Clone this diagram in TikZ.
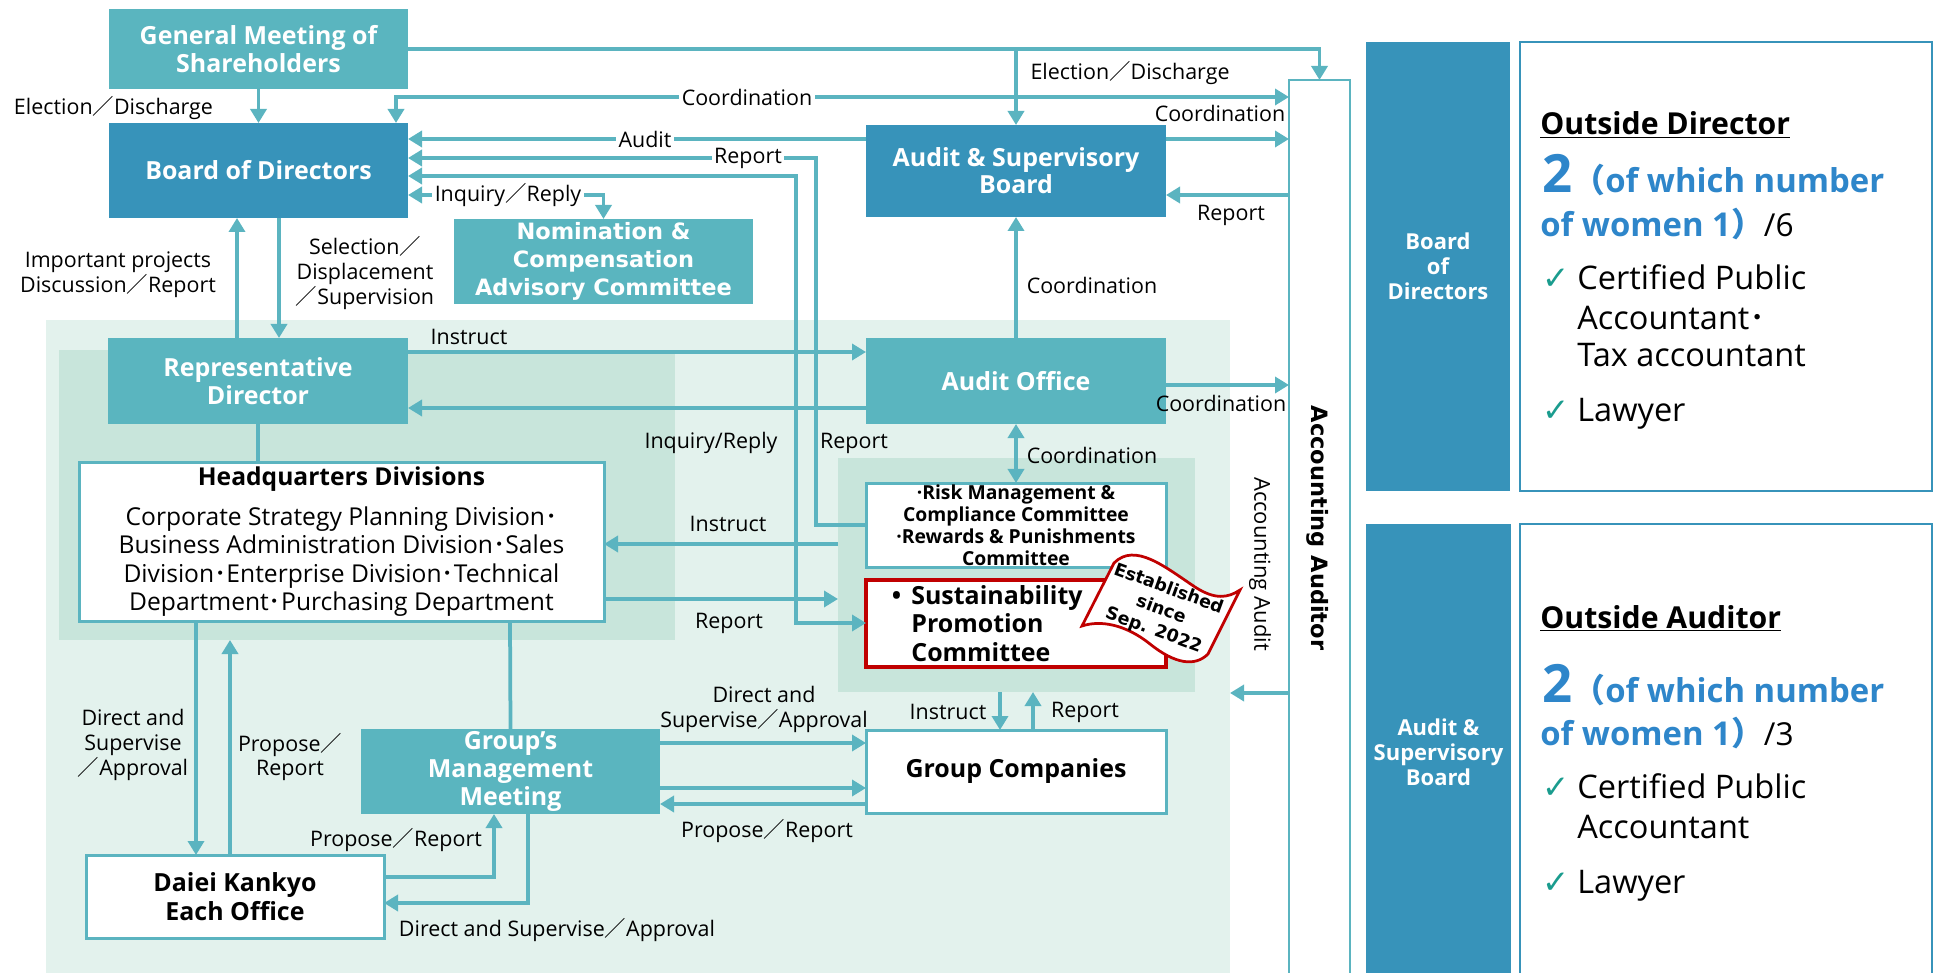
\documentclass[tikz,border=0pt]{standalone}
\usepackage{fontspec}
\setmainfont{Open Sans}
\newfontfamily\cjk{Noto Sans CJK JP}
\newfontfamily\dvs{DejaVu Sans}
\usetikzlibrary{arrows.meta}
\definecolor{linecol}{HTML}{5BB4C0}
\definecolor{tealbox}{HTML}{5AB5BF}
\definecolor{boardblue}{HTML}{3793BA}
\definecolor{regionA}{HTML}{E3F2ED}
\definecolor{regionB}{HTML}{C8E5DB}
\definecolor{susred}{HTML}{C00000}
\definecolor{numblue}{HTML}{2E86CA}
\definecolor{chkgreen}{HTML}{1A9C8E}
\newcommand{\zsl}{{\cjk ／}}
\newcommand{\zdt}{{\cjk ･}}
\newcommand{\zlp}{{\cjk （}}
\newcommand{\zrp}{{\cjk ）}}
\newcommand{\chk}{{\dvs\color{chkgreen}✓}}

\begin{document}
\begin{tikzpicture}[
        x=0.2mm, y=0.2mm,
        >={Triangle[length=2.8mm,width=3.2mm]},
        sz/.style 2 args={minimum width=#1*0.2mm, minimum height=#2*0.2mm},
        region/.style={draw=none, inner sep=0, outer sep=0},
        tbox/.style={fill=tealbox, draw=none, text=white, align=center,
                     inner sep=0, outer sep=0,
                     font=\bfseries\fontsize{14.2}{16}\selectfont},
        bbox/.style={tbox, fill=boardblue},
        wbox/.style={fill=white, draw=linecol, line width=0.6mm, text=black,
                     align=center, inner sep=0, outer sep=0,
                     font=\bfseries\fontsize{14.2}{16.4}\selectfont},
        lbl/.style={inner sep=0, align=center, text=black,
                    font=\fontsize{12.2}{14.2}\selectfont},
        lblw/.style={lbl, fill=white, inner xsep=1.5pt, inner ysep=1pt},
        conn/.style={draw=linecol, line width=0.75mm, ->},
        plain/.style={draw=linecol, line width=0.75mm},
        ptxt/.style={anchor=base west, inner sep=0, text=black,
                     font=\fontsize{18.5}{22}\selectfont},
        ptitle/.style={ptxt, font=\bfseries\fontsize{17.2}{20}\selectfont},
        pnum/.style={ptxt, text=numblue, font=\bfseries\fontsize{18.7}{22}\selectfont},
        side/.style={bbox, font=\bfseries\fontsize{12.5}{14.2}\selectfont},
        panel/.style={draw=boardblue, line width=0.5mm, fill=white,
                      inner sep=0, outer sep=0},
      ]
      \useasboundingbox (0,0) rectangle (1935,972);
      \clip (0,0) rectangle (1935,972);

      % background areas
      \node[region, fill=regionA, sz={1184}{662}] (grp) at (638,321) {};
      \node[region, fill=regionB, sz={616}{290}] (hqarea) at (367,477) {};
      \node[region, fill=regionB, sz={357}{234}] (cmt) at (1016.5,397) {};

      % boxes
      \node[tbox, sz={299}{80}] (gms) at (258.5,923) {General Meeting of\\Shareholders};
      \node[bbox, sz={299}{95}] (bod) at (258.5,801.5) {Board of Directors};
      \node[tbox, sz={299}{85}, font=\dvs\bfseries\fontsize{12.8}{15.9}\selectfont]
        (nom) at (603.5,710.5) {Nomination \&\\Compensation\\Advisory Committee};
      \node[bbox, sz={300}{92}, font=\bfseries\fontsize{14.2}{12.5}\selectfont]
        (asb) at (1016,801) {Audit \& Supervisory\\Board};
      \node[tbox, sz={300}{86}] (rd) at (258,591) {Representative\\Director};
      \node[wbox, sz={525}{159}, font=\fontsize{14}{16.2}\selectfont] (hq) at (341.5,430.5)
        {{\bfseries Headquarters Divisions}\\[6.5pt]
         Corporate Strategy Planning Division\zdt\\
         Business Administration Division\zdt Sales\\
         Division\zdt Enterprise Division\zdt Technical\\
         Department\zdt Purchasing Department};
      \node[tbox, sz={300}{86}] (ao) at (1016,591) {Audit Office};
      \node[wbox, sz={300}{84}, font=\bfseries\fontsize{11}{12.5}\selectfont]
        (risk) at (1016,447) {·Risk Management \&\\Compliance Committee\\
                              ·Rewards \& Punishments\\Committee};
      \node[wbox, draw=susred, line width=0.85mm, sz={300}{87}] (sus) at (1016,348.5) {};
      \node[anchor=west, inner sep=0, align=left, font=\bfseries\fontsize{14.2}{16.4}\selectfont]
        (sustxt) at (911,348.5) {\llap{\textbullet\hspace{2mm}}Sustainability\\Promotion\\Committee};
      \node[wbox, sz={300}{83}] (gc) at (1016,200.5) {Group Companies};
      \node[tbox, sz={299}{85}] (gmm) at (510.5,200.5) {Group’s\\Management\\Meeting};
      \node[wbox, sz={298}{83}] (daiei) at (235,75.5) {Daiei Kankyo\\Each Office};
      \node[wbox, line width=0.45mm, sz={61}{900}] (aa) at (1319.5,442) {};
      \node[lbl, rotate=-90, font=\dvs\bfseries\fontsize{12.8}{15}\selectfont]
        (aalbl) at (1318,444) {Accounting Auditor};

      % banner
      \draw[draw=susred, line width=0.55mm, fill=white]
        (1114,409) .. controls (1135,430) and (1165,405) .. (1195,385)
        .. controls (1215,372) and (1228,374) .. (1240,382) -- (1208,318)
        .. controls (1195,305) and (1175,308) .. (1150,328)
        .. controls (1125,348) and (1100,352) .. (1082,346) -- cycle;
      \node[lbl, rotate=-20, font=\dvs\bfseries\fontsize{10}{12.5}\selectfont]
        (since) at (1161,362) {Established\\since\\Sep. 2022};

      % connectors, upper part
      \draw[conn] (gms) -- (bod);
      \draw[conn] (gms.east) -| (aa.north);
      \draw[conn] (gms.east -| asb.north) -- (asb.north);
      \draw[conn, <->] (bod.north -| 396,0) |- (aa.west |- 0,875);
      \draw[conn] (asb.east |- 0,833) -- (aa.west |- 0,833);
      \draw[conn] (aa.west |- 0,777) -- (asb.east |- 0,777);
      \draw[conn] (asb.west |- 0,833) -- (bod.east |- 0,833);
      \draw[conn] (risk.west) -| (816,814) -- (bod.east |- 0,814);
      \draw[conn, <->] (bod.east |- 0,796) -| (796,349) -- (sus.west |- 0,349);
      \draw[conn, <->] (bod.east |- 0,777) -| (nom.north);
      \draw[conn] (237,0 |- rd.north) -- (237,0 |- bod.south);
      \draw[conn] (279,0 |- bod.south) -- (279,0 |- rd.north);
      \draw[conn] (rd.east |- 0,620) -- (ao.west |- 0,620);
      \draw[conn] (ao.west |- 0,564) -- (rd.east |- 0,564);
      \draw[conn] (ao.east |- 0,587) -- (aa.west |- 0,587);
      \draw[conn] (ao) -- (asb);
      \draw[conn, <->] (ao) -- (risk);

      % connectors, lower part
      \draw[plain] (rd.south) -- (rd.south |- hq.north);
      \draw[conn] (cmt.west |- 0,428) -- (hq.east |- 0,428);
      \draw[conn] (hq.east |- 0,373) -- (cmt.west |- 0,373);
      \draw[conn] (196,0 |- hq.south) -- (196,0 |- daiei.north);
      \draw[conn] (230,0 |- daiei.north) -- (230,0 |- hqarea.south);
      \draw[plain] (510,0 |- hq.south) -- (gmm.north);
      \draw[conn] (gmm.east |- 0,229) -- (gc.west |- 0,229);
      \draw[conn] (gmm.east |- 0,184) -- (gc.west |- 0,184);
      \draw[conn] (gc.west |- 0,168) -- (gmm.east |- 0,168);
      \draw[conn] (1000,0 |- cmt.south) -- (1000,0 |- gc.north);
      \draw[conn] (1033,0 |- gc.north) -- (1033,0 |- cmt.south);
      \draw[conn] (daiei.east |- 0,95) -| (gmm.south -| 494,0);
      \draw[conn] (gmm.south -| 528,0) |- (daiei.east |- 0,69);
      \draw[conn] (aa.west |- 0,279) -- (grp.east |- 0,279);

      % labels
      \node[lbl] (l1) at (113.5,864) {Election\zsl Discharge};
      \node[lbl] (l2) at (1130,899) {Election\zsl Discharge};
      \node[lblw] (l3) at (747,875) {Coordination};
      \node[lbl] (l4) at (1220,859) {Coordination};
      \node[lbl] (l5) at (1231,757) {Report};
      \node[lblw] (l6) at (645,833) {Audit};
      \node[lblw] (l7) at (748,814) {Report};
      \node[lblw] (l8) at (508,777) {Inquiry\zsl Reply};
      \node[lbl] (l9) at (118,697.5) {Important projects\\Discussion\zsl Report};
      \node[lbl] (l10) at (365,699) {Selection\zsl\\Displacement\\\zsl Supervision};
      \node[lbl] (l11) at (469,635) {Instruct};
      \node[lbl] (l12) at (711,529) {Inquiry/Reply};
      \node[lbl] (l13) at (854,529) {Report};
      \node[lbl] (l14) at (1092,687) {Coordination};
      \node[lbl] (l15) at (1221,569) {Coordination};
      \node[lbl] (l16) at (1092,517) {Coordination};
      \node[lbl] (l17) at (728,448) {Instruct};
      \node[lbl] (l18) at (729,349) {Report};
      \node[lbl] (l19) at (133,227) {Direct and\\Supervise\\\zsl Approval};
      \node[lbl] (l20) at (290,215) {Propose\zsl\\Report};
      \node[lbl] (l21) at (764,263) {Direct and\\Supervise\zsl Approval};
      \node[lbl] (l22) at (767,141) {Propose\zsl Report};
      \node[lbl] (l23) at (948,260) {Instruct};
      \node[lbl] (l24) at (1085,260) {Report};
      \node[lbl] (l25) at (396,132) {Propose\zsl Report};
      \node[lbl] (l26) at (557,42) {Direct and Supervise\zsl Approval};
      \node[lbl, rotate=-90, font=\fontsize{12.5}{14}\selectfont] (l27) at (1260,408) {Accounting Audit};

      % right panel
      \node[side, sz={144}{449}] (sbod) at (1438,705.5) {Board\\of\\Directors};
      \node[panel, sz={412}{449}] (obod) at (1726,705.5) {};
      \node[side, sz={145}{456}] (sasb) at (1438.5,220) {Audit \&\\Supervisory\\Board};
      \node[panel, sz={412}{456}] (oasb) at (1726,220) {};

      \node[ptitle] (odt) at (1540,837) {\underline{Outside Director}};
      \node[pnum] (odn1) at (1542,779) {{\fontsize{30}{30}\selectfont 2}\zlp of which number};
      \node[pnum] (odn2) at (1540,735) {of women 1\zrp{\color{black}\mdseries\fontsize{18}{22}\selectfont /6}};
      \node[ptxt] (odc1) at (1542,682) {\chk};
      \node[ptxt] (odq1) at (1577,682) {Certified Public};
      \node[ptxt] (odq2) at (1577,642) {Accountant\zdt};
      \node[ptxt] (odq3) at (1577,605) {Tax accountant};
      \node[ptxt] (odc2) at (1542,550) {\chk};
      \node[ptxt] (odq4) at (1577,550) {Lawyer};

      \node[ptitle] (oat) at (1540,344) {\underline{Outside Auditor}};
      \node[pnum] (oan1) at (1542,270) {{\fontsize{30}{30}\selectfont 2}\zlp of which number};
      \node[pnum] (oan2) at (1540,227) {of women 1\zrp{\color{black}\mdseries\fontsize{18}{22}\selectfont /3}};
      \node[ptxt] (oac1) at (1542,174) {\chk};
      \node[ptxt] (oaq1) at (1577,174) {Certified Public};
      \node[ptxt] (oaq2) at (1577,134) {Accountant};
      \node[ptxt] (oac2) at (1542,79) {\chk};
      \node[ptxt] (oaq3) at (1577,79) {Lawyer};
    \end{tikzpicture}
\end{document}
